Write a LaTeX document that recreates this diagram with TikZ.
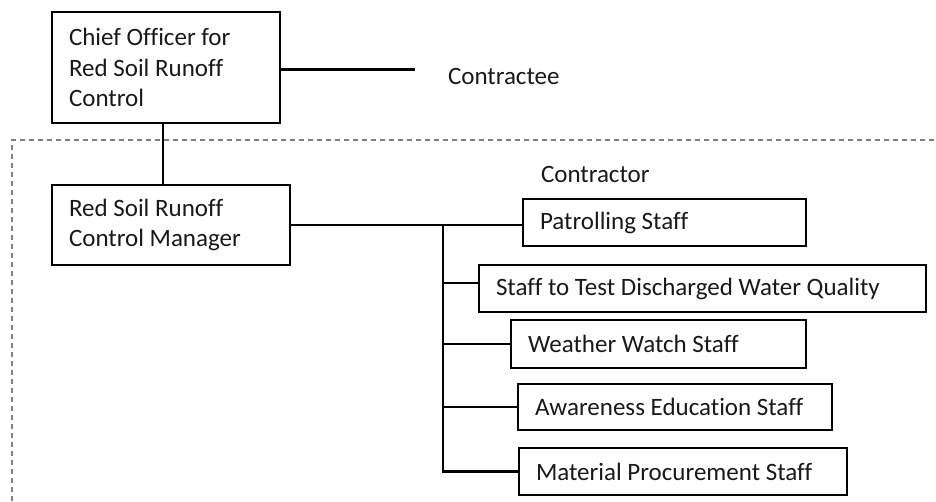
\documentclass[tikz,border=0pt]{standalone}
\usepackage{fontspec}
\setmainfont{Carlito}[Ligatures=NoCommon]
\usetikzlibrary{calc}
% label font
\newcommand{\diagfont}{\fontsize{25}{30.5}\selectfont}
% back to the font's own word spacing inside ragged nodes
\newcommand{\plainspaces}{\spaceskip=0pt\xspaceskip=0pt\relax}

\begin{document}
\begin{tikzpicture}[x=1pt, y=-1pt,
  every node/.style={inner sep=0pt, outer sep=0pt, text=black!90},
  txt/.style={font=\diagfont},
  box/.style={txt, draw, line width=2.1pt, anchor=north west, align=left,
    inner xsep=17pt, execute at begin node=\plainspaces},
  link/.style={line width=2.1pt, line cap=rect},
  frame/.style={draw=black!50, line width=2.2pt, dash pattern=on 5pt off 4pt}]

  \path[use as bounding box, clip] (0,0) rectangle (936,501);

  % contractor area
  \draw[frame] (12,510) -- (12,140) -- (945,140);

  % top management
  \node[box, minimum width=228pt, minimum height=111pt, text width=194pt]
    (chief) at (52,12) {Chief Officer for\\Red Soil Runoff\\Control};
  \node[box, minimum width=238pt, minimum height=80pt, text width=204pt]
    (mgr) at (52,185) {Red Soil Runoff\\Control Manager};

  \node[txt, anchor=base west] (contractee) at (448,84) {Contractee};
  \node[txt, anchor=base west] (contractor) at (541,182) {Contractor};

  % staff boxes
  \node[box, minimum width=283pt, minimum height=47pt, text width=249pt]
    (pat) at (523,199) {Patrolling Staff};
  \node[box, minimum width=447pt, minimum height=47pt, text width=413pt]
    (test) at (479,265) {Staff to Test Discharged Water Quality};
  \node[box, minimum width=295pt, minimum height=48pt, text width=261pt]
    (wea) at (511,320) {Weather Watch Staff};
  \node[box, minimum width=314pt, minimum height=46pt, text width=280pt]
    (awa) at (518,384) {Awareness Education Staff};
  \node[box, minimum width=328pt, minimum height=47pt, text width=294pt]
    (mat) at (519,448) {Material Procurement Staff};

  % connectors
  \coordinate (vx) at (163,0);
  \coordinate (ceEnd) at (414,69.5);
  \coordinate (trunk) at (443,225);
  \coordinate (testIn) at ($(test.west)+(0,-5.5)$);

  \draw[link] (chief.south -| vx) -- (mgr.north -| vx);
  \draw[link] (chief.east |- ceEnd) -- (ceEnd);
  \draw[link] (mgr.east |- trunk) -- (trunk -| pat.west);
  \draw[link] (trunk) -- (trunk |- mat.west);
  \draw[link] (trunk |- testIn) -- (testIn);
  \draw[link] (trunk |- wea.west) -- (wea.west);
  \draw[link] (trunk |- awa.west) -- (awa.west);
  \draw[link] (trunk |- mat.west) -- (mat.west);
\end{tikzpicture}
\end{document}
